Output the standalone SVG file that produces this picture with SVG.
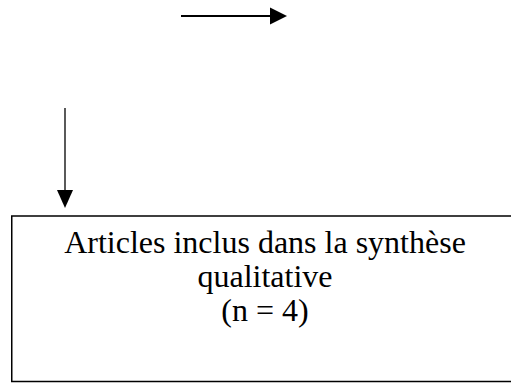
<svg xmlns="http://www.w3.org/2000/svg" width="511" height="383" viewBox="0 0 511 383">
<style>
.lbl{font-family:"Liberation Serif","Times New Roman",serif;font-size:32px;fill:#000;text-anchor:middle}
.box{fill:#fff;stroke:#000;stroke-width:1.5}
.conn{stroke:#000;fill:none}
</style>
<rect width="511" height="383" fill="#fff"/>
<g id="connectors">
<line class="conn" x1="181" y1="16" x2="270" y2="16" stroke-width="2"/>
<path d="M270,7.5 L287,16 L270,24.5 Z" fill="#000"/>
<line class="conn" x1="65" y1="108" x2="65" y2="191" stroke-width="1.3"/>
<path d="M57,190 L73,190 L65,208 Z" fill="#000"/>
</g>
<g id="node-articles">
<rect class="box" x="11.75" y="216" width="507" height="165.5"/>
<text class="lbl" x="265" y="253">Articles inclus dans la synthèse</text>
<text class="lbl" x="265" y="287">qualitative</text>
<text class="lbl" x="265" y="321">(n = 4)</text>
</g>
</svg>
